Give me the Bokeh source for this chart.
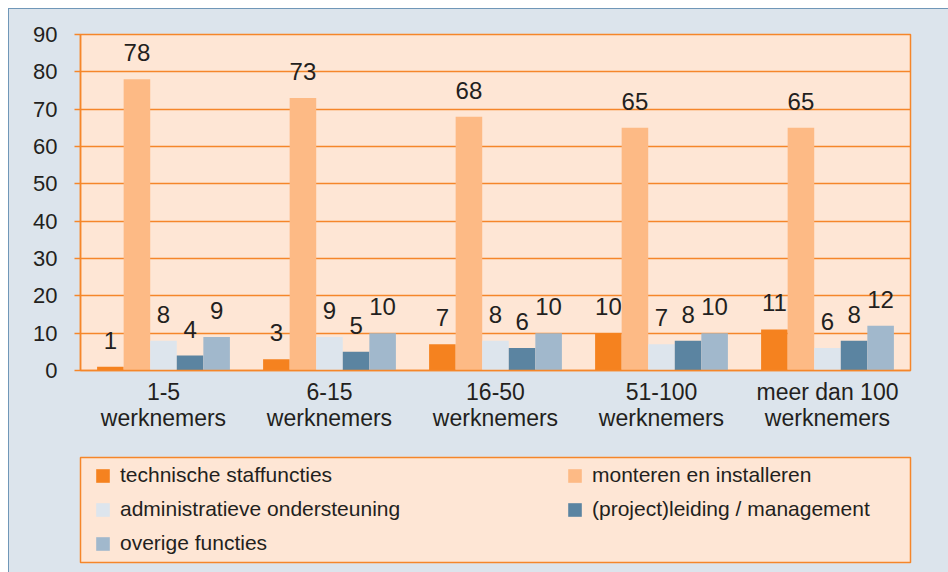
from bokeh.plotting import figure
from bokeh.models import ColumnDataSource, FactorRange, Range1d, Legend, LegendItem
from bokeh.transform import dodge
from bokeh.layouts import column
from bokeh.embed import file_html
from bokeh.resources import INLINE
from bokeh.core.properties import value

categories = ["1-5\nwerknemers", "6-15\nwerknemers", "16-50\nwerknemers",
              "51-100\nwerknemers", "meer dan 100\nwerknemers"]
series_names = ["technische staffuncties", "monteren en installeren",
                "administratieve ondersteuning", "(project)leiding / management",
                "overige functies"]
tech = [1, 3, 7, 10, 11]
mont = [78, 73, 68, 65, 65]
admin = [8, 9, 8, 7, 6]
mgmt = [4, 5, 6, 8, 8]
overige = [9, 10, 10, 10, 12]
y_ticks = [0, 10, 20, 30, 40, 50, 60, 70, 80, 90]

series = [tech, mont, admin, mgmt, overige]
colors = ["#F5821F", "#FDBA85", "#DDE5ED", "#5B84A1", "#A1B8CC"]
offsets = [-0.32, -0.16, 0.0, 0.16, 0.32]

FONT = "Liberation Sans"
PAGE_BG = "#DCE4EC"
PLOT_BG = "#FEE6D5"
ORANGE = "#F5862A"
TEXT = "#231F20"

W = 939
H1 = 439
H2 = 124

p = figure(width=W, height=H1, x_range=FactorRange(*categories), y_range=Range1d(0, 90),
           output_backend="svg", toolbar_location=None,
           min_border_left=63, min_border_right=38, min_border_top=25, min_border_bottom=78)
p.background_fill_color = PLOT_BG
p.border_fill_color = PAGE_BG
p.outline_line_color = ORANGE
p.outline_line_width = 1.5

data = {"cat": categories}
for i, s in enumerate(series):
    data[f"s{i}"] = s
    data[f"l{i}"] = [str(v) for v in s]
src = ColumnDataSource(data)

for i in range(5):
    p.vbar(x=dodge("cat", offsets[i], range=p.x_range), top=f"s{i}", width=0.16,
           source=src, fill_color=colors[i], line_color=None)
    p.text(x=dodge("cat", offsets[i], range=p.x_range), y=f"s{i}", text=f"l{i}",
           source=src, text_align="center", text_baseline="bottom", y_offset=-18,
           text_font=value(FONT), text_font_size="24px", text_color=TEXT)

p.xgrid.grid_line_color = None
p.ygrid.grid_line_color = ORANGE
p.ygrid.grid_line_width = 1.5
p.ygrid.ticker = y_ticks
p.yaxis.ticker = y_ticks
p.yaxis.axis_line_color = ORANGE
p.yaxis.axis_line_width = 1.5
p.yaxis.major_tick_line_color = ORANGE
p.yaxis.major_tick_line_width = 1.5
p.yaxis.major_tick_out = 6
p.yaxis.major_tick_in = 0
p.yaxis.minor_tick_line_color = None
p.yaxis.major_label_standoff = 17
p.yaxis.major_label_text_font = FONT
p.yaxis.major_label_text_font_size = "22px"
p.yaxis.major_label_text_color = TEXT

p.xaxis.axis_line_color = ORANGE
p.xaxis.axis_line_width = 1.5
p.xaxis.major_tick_line_color = None
p.xaxis.minor_tick_line_color = None
p.xaxis.major_label_standoff = 2
p.xaxis.major_label_text_font = FONT
p.xaxis.major_label_text_font_size = "23px"
p.xaxis.major_label_text_color = TEXT
p.xaxis.major_label_text_line_height = 1.0

# legend panel
p2 = figure(width=W, height=H2, x_range=Range1d(0, 1), y_range=Range1d(0, 1),
            output_backend="svg", toolbar_location=None,
            x_axis_location=None, y_axis_location=None,
            min_border_left=71, min_border_right=38, min_border_top=9, min_border_bottom=10)
p2.background_fill_color = PLOT_BG
p2.border_fill_color = PAGE_BG
p2.outline_line_color = ORANGE
p2.outline_line_width = 1.5
p2.grid.grid_line_color = None

renderers = []
for i in range(5):
    r = p2.vbar(x=[-5], top=[0], width=0.1, fill_color=colors[i], line_color=None)
    renderers.append(r)

order = [0, 2, 4, 1, 3]
items = [LegendItem(label=series_names[i], renderers=[renderers[i]]) for i in order]

legend = Legend(items=items, nrows=3, location=(14, 7),
                background_fill_alpha=0, border_line_color=None,
                margin=0, padding=0, spacing=10,
                glyph_width=17, glyph_height=17, label_standoff=9,
                label_width=436, label_height=23,
                label_text_font=FONT, label_text_font_size="21px", label_text_color=TEXT)
p2.add_layout(legend, "center")

layout = column(p, p2, spacing=0, styles={"margin-left": "8px", "margin-top": "8px",
                                           "border-left": "1px solid #7097B8",
                                           "border-top": "1px solid #7097B8",
                                           "background-color": PAGE_BG})

open("out.html", "w").write(file_html(layout, INLINE))
